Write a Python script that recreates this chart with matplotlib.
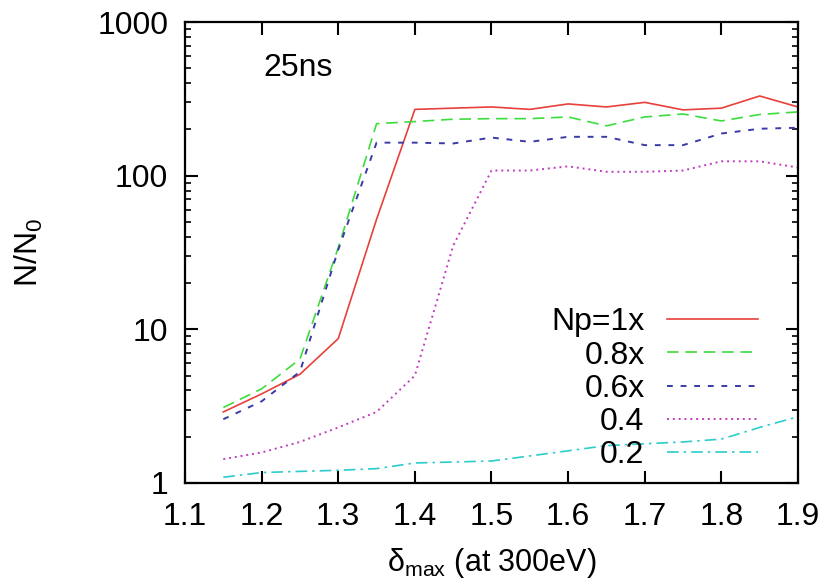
import matplotlib
matplotlib.use("Agg")
import matplotlib.pyplot as plt
from matplotlib.ticker import LogLocator, NullFormatter, FixedLocator

plt.rcParams['font.family'] = ['Liberation Sans', 'DejaVu Sans']
plt.rcParams['mathtext.fontset'] = 'custom'
plt.rcParams['mathtext.rm'] = 'Liberation Sans'
plt.rcParams['mathtext.it'] = 'Liberation Sans'

delta_max = [1.15, 1.2, 1.25, 1.3, 1.35, 1.4, 1.45, 1.5, 1.55, 1.6, 1.65, 1.7, 1.75, 1.8, 1.85, 1.9]
np_1x = [2.9, 3.8, 5.1, 8.7, 52, 270, 275, 280, 270, 293, 280, 300, 268, 275, 330, 280]
np_08x = [3.1, 4.1, 6.4, 34, 218, 225, 233, 235, 235, 241, 211, 241, 252, 227, 250, 260]
np_06x = [2.6, 3.4, 5.3, 33, 164, 164, 162, 177, 166, 179, 179, 158, 158, 188, 202, 205]
np_04 = [1.43, 1.58, 1.85, 2.3, 2.9, 5.0, 35, 108, 108, 115, 106, 106, 108, 124, 124, 113]
np_02 = [1.09, 1.17, 1.19, 1.21, 1.24, 1.35, 1.37, 1.39, 1.5, 1.62, 1.75, 1.8, 1.85, 1.93, 2.3, 2.7]

labels = ["Np=1x", "0.8x", "0.6x", "0.4", "0.2"]
x_ticks = [1.1, 1.2, 1.3, 1.4, 1.5, 1.6, 1.7, 1.8, 1.9]
y_ticks = [1, 10, 100, 1000]
y_ticklabels = ["1", "10", "100", "1000"]

fig = plt.figure(figsize=(8.28, 5.83), dpi=100)
ax = fig.add_axes([185/828, 1-483/583, 613/828, 461/583])

lw = 1.2
ax.plot(delta_max, np_1x, color='#e8403a', lw=lw, ls='-', label=labels[0])
ax.plot(delta_max, np_08x, color='#3ddc3d', lw=lw, ls=(0, (7, 4)), label=labels[1])
ax.plot(delta_max, np_06x, color='#3a3aa8', lw=lw+0.2, ls=(0, (3, 4)), label=labels[2])
ax.plot(delta_max, np_04, color='#c03cc0', lw=lw+0.2, ls=(0, (1, 2)), label=labels[3])
ax.plot(delta_max, np_02, color='#2ccccc', lw=lw, ls=(0, (7, 3, 1.5, 3)), label=labels[4])

ax.set_yscale('log')
ax.set_xlim(1.1, 1.9)
ax.set_ylim(1, 1000)
ax.xaxis.set_major_locator(FixedLocator(x_ticks))
ax.set_xticklabels([f"{v:.1f}" for v in x_ticks])
ax.set_yticks(y_ticks)
ax.set_yticklabels(y_ticklabels)
ax.yaxis.set_minor_locator(LogLocator(base=10, subs=range(2, 10)))
ax.yaxis.set_minor_formatter(NullFormatter())

for s in ax.spines.values():
    s.set_linewidth(1.6)
ax.tick_params(which='major', direction='in', length=9, width=1.5, top=True, right=True, labelsize=23)
ax.tick_params(axis='x', which='major', pad=14)
ax.tick_params(axis='y', which='major', pad=12)
ax.tick_params(which='minor', direction='in', length=4.5, width=1.2, top=True, right=True)

ax.text((263-185)/613, 0.9, "25ns", transform=ax.transAxes, fontsize=23, ha='left', va='center')

ax.set_ylabel(r"N/N$_0$", fontsize=23, labelpad=38)
ax.set_xlabel(r"$\mathrm{\delta}_{\mathrm{max}}$ (at 300eV)", fontsize=22, labelpad=10)

leg = ax.legend(loc='lower right', bbox_to_anchor=((758-185)/613, 0.028), frameon=False,
                markerfirst=False, fontsize=23, handlelength=2.85, handletextpad=0.7,
                labelspacing=0.1, borderpad=0, borderaxespad=0)

fig.savefig("out.png", dpi=100)
